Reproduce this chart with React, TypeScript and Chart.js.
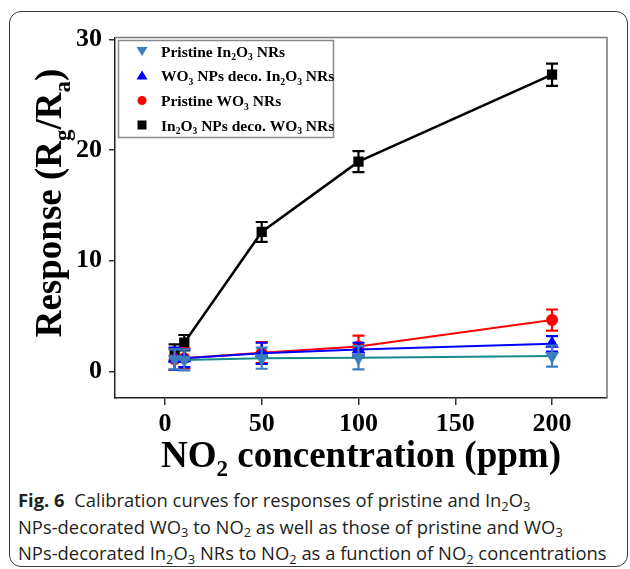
import React, { useEffect, useRef } from "react";
import { Chart, registerables } from "chart.js";

Chart.register(...registerables);

// ---------- data ----------
const concentrations = [5, 10, 50, 100, 200];
const pristineIn2O3 = [1.1, 1.05, 1.2, 1.25, 1.4];
const pristineIn2O3Err = [0.9, 0.95, 0.95, 1.05, 0.95];
const wo3DecoIn2O3 = [1.15, 1.2, 1.65, 2.0, 2.5];
const wo3DecoIn2O3Err = [1.0, 0.8, 0.95, 0.6, 0.7];
const pristineWO3 = [1.1, 1.2, 1.7, 2.25, 4.65];
const pristineWO3Err = [0.95, 0.9, 0.95, 1.0, 0.95];
const in2o3DecoWO3 = [1.7, 2.6, 12.6, 18.95, 26.8];
const in2o3DecoWO3Err = [0.75, 0.7, 0.9, 0.95, 1.0];
const xTicks = [0, 50, 100, 150, 200];
const yTicks = [0, 10, 20, 30];

type Seg = { t: string; sub?: boolean };
const legendLabels: Seg[][] = [
  [{ t: "Pristine In" }, { t: "2", sub: true }, { t: "O" }, { t: "3", sub: true }, { t: " NRs" }],
  [{ t: "WO" }, { t: "3", sub: true }, { t: " NPs deco. In" }, { t: "2", sub: true }, { t: "O" }, { t: "3", sub: true }, { t: " NRs" }],
  [{ t: "Pristine WO" }, { t: "3", sub: true }, { t: " NRs" }],
  [{ t: "In" }, { t: "2", sub: true }, { t: "O" }, { t: "3", sub: true }, { t: " NPs deco. WO" }, { t: "3", sub: true }, { t: " NRs" }],
];
const xTitle: Seg[] = [{ t: "NO" }, { t: "2", sub: true }, { t: " concentration (ppm)" }];
const yTitle: Seg[] = [{ t: "Response (R" }, { t: "g", sub: true }, { t: "/R" }, { t: "a", sub: true }, { t: ")" }];

const SERIF = '"Liberation Serif", "Times New Roman", serif';

function drawRich(ctx: CanvasRenderingContext2D, segs: Seg[], x: number, y: number, size: number, align: "left" | "center") {
  const mainF = `bold ${size}px ${SERIF}`;
  const subF = `bold ${size * 0.62}px ${SERIF}`;
  let w = 0;
  for (const s of segs) {
    ctx.font = s.sub ? subF : mainF;
    w += ctx.measureText(s.t).width;
  }
  let cx = align === "center" ? x - w / 2 : x;
  ctx.textAlign = "left";
  ctx.textBaseline = "alphabetic";
  for (const s of segs) {
    ctx.font = s.sub ? subF : mainF;
    ctx.fillText(s.t, cx, s.sub ? y + size * 0.24 : y);
    cx += ctx.measureText(s.t).width;
  }
}

const errorBarPlugin = {
  id: "errorBars",
  afterDatasetDraw(chart: any, args: any) {
    const ds = chart.data.datasets[args.index];
    const errs: number[] = ds.errors;
    if (!errs) return;
    const ctx: CanvasRenderingContext2D = chart.ctx;
    const xs = chart.scales.x;
    const ys = chart.scales.y;
    ctx.save();
    ctx.strokeStyle = ds.errorColor;
    ctx.lineWidth = 2.2;
    ds.data.forEach((p: any, i: number) => {
      const x = xs.getPixelForValue(p.x);
      const y1 = ys.getPixelForValue(p.y + errs[i]);
      const y2 = ys.getPixelForValue(p.y - errs[i]);
      ctx.beginPath();
      ctx.moveTo(x, y1);
      ctx.lineTo(x, y2);
      ctx.moveTo(x - 6, y1);
      ctx.lineTo(x + 6, y1);
      ctx.moveTo(x - 6, y2);
      ctx.lineTo(x + 6, y2);
      ctx.stroke();
    });
    ctx.restore();
  },
};

const decorPlugin = {
  id: "decor",
  afterDraw(chart: any) {
    const ctx: CanvasRenderingContext2D = chart.ctx;
    const a = chart.chartArea;
    ctx.save();
    // top & right frame (gray)
    ctx.strokeStyle = "#7a7a7a";
    ctx.lineWidth = 1.5;
    ctx.beginPath();
    ctx.moveTo(a.left, a.top);
    ctx.lineTo(a.right, a.top);
    ctx.lineTo(a.right, a.bottom);
    ctx.stroke();

    // legend box
    const lx = 118.5, ly = 40.5, lw = 215, lh = 97;
    ctx.fillStyle = "#ffffff";
    ctx.fillRect(lx, ly, lw, lh);
    ctx.strokeStyle = "#8a8a8a";
    ctx.lineWidth = 1.5;
    ctx.strokeRect(lx, ly, lw, lh);

    const rows = [51, 75.5, 100.5, 125];
    const colors = ["#3b7dbf", "#0000ff", "#ff0000", "#000000"];
    rows.forEach((ry, i) => {
      const mx = 142;
      ctx.fillStyle = colors[i];
      ctx.beginPath();
      if (i === 0) {
        ctx.moveTo(mx - 5.5, ry - 4);
        ctx.lineTo(mx + 5.5, ry - 4);
        ctx.lineTo(mx, ry + 5);
        ctx.closePath();
      } else if (i === 1) {
        ctx.moveTo(mx - 5.5, ry + 4);
        ctx.lineTo(mx + 5.5, ry + 4);
        ctx.lineTo(mx, ry - 5);
        ctx.closePath();
      } else if (i === 2) {
        ctx.arc(mx, ry, 4.5, 0, Math.PI * 2);
      } else {
        ctx.rect(mx - 4.5, ry - 4.5, 9, 9);
      }
      ctx.fill();
      ctx.fillStyle = "#000";
      drawRich(ctx, legendLabels[i], 161, ry + 5.5, 15.5, "left");
    });

    // axis titles
    ctx.fillStyle = "#000";
    drawRich(ctx, xTitle, (a.left + a.right) / 2, 467, 37, "center");
    ctx.save();
    ctx.translate(61, 203);
    ctx.rotate(-Math.PI / 2);
    drawRich(ctx, yTitle, 0, 0, 37, "center");
    ctx.restore();
    ctx.restore();
  },
};

function toPts(vals: number[]) {
  return concentrations.map((c, i) => ({ x: c, y: vals[i] }));
}

export default function App() {
  const ref = useRef<HTMLCanvasElement | null>(null);
  useEffect(() => {
    if (!ref.current) return;
    const tickFont = { family: SERIF, size: 26, weight: "bold" as const };
    const chart = new Chart(ref.current, {
      type: "line",
      data: {
        datasets: [
          {
            label: "Pristine In2O3 NRs",
            data: toPts(pristineIn2O3),
            borderColor: "#178a8a",
            borderWidth: 2,
            pointStyle: "triangle",
            pointRotation: 180,
            pointRadius: 6,
            pointBackgroundColor: "#3b7dbf",
            pointBorderColor: "#3b7dbf",
            errors: pristineIn2O3Err,
            errorColor: "#3b7dbf",
          } as any,
          {
            label: "WO3 NPs deco. In2O3 NRs",
            data: toPts(wo3DecoIn2O3),
            borderColor: "#0000ff",
            borderWidth: 2,
            pointStyle: "triangle",
            pointRadius: 6,
            pointBackgroundColor: "#0000ff",
            pointBorderColor: "#0000ff",
            errors: wo3DecoIn2O3Err,
            errorColor: "#0000ff",
          } as any,
          {
            label: "Pristine WO3 NRs",
            data: toPts(pristineWO3),
            borderColor: "#ff0000",
            borderWidth: 2,
            pointStyle: "circle",
            pointRadius: 5,
            pointBackgroundColor: "#ff0000",
            pointBorderColor: "#ff0000",
            errors: pristineWO3Err,
            errorColor: "#ff0000",
          } as any,
          {
            label: "In2O3 NPs deco. WO3 NRs",
            data: toPts(in2o3DecoWO3),
            borderColor: "#000000",
            borderWidth: 2.5,
            pointStyle: "rect",
            pointRadius: 5.5,
            pointBackgroundColor: "#000000",
            pointBorderColor: "#000000",
            errors: in2o3DecoWO3Err,
            errorColor: "#000000",
          } as any,
        ],
      },
      options: {
        animation: false,
        responsive: false,
        layout: { padding: { top: 37.5, right: 23, left: 0, bottom: 0 } },
        plugins: { legend: { display: false }, tooltip: { enabled: false } },
        elements: { line: { tension: 0 } },
        scales: {
          x: {
            type: "linear",
            min: -25.8,
            max: 228.4,
            afterBuildTicks: (s: any) => {
              s.ticks = xTicks.map((v) => ({ value: v }));
            },
            afterFit: (s: any) => {
              s.height = 82;
            },
            ticks: { font: tickFont, color: "#000", padding: 4, maxRotation: 0, autoSkip: false },
            grid: { drawOnChartArea: false, drawTicks: true, tickLength: 7, color: "#333", lineWidth: 1.5 },
            border: { display: true, color: "#222", width: 1.5 },
          },
          y: {
            type: "linear",
            min: -2.39,
            max: 30.16,
            afterBuildTicks: (s: any) => {
              s.ticks = yTicks.map((v) => ({ value: v }));
            },
            afterFit: (s: any) => {
              s.width = 115;
            },
            ticks: { font: tickFont, color: "#000", padding: 7, autoSkip: false },
            grid: { drawOnChartArea: false, drawTicks: true, tickLength: 6, color: "#333", lineWidth: 1.5 },
            border: { display: true, color: "#222", width: 1.5 },
          },
        },
      },
      plugins: [errorBarPlugin, decorPlugin],
    });
    return () => chart.destroy();
  }, []);

  const sub: React.CSSProperties = { fontSize: "0.7em", position: "relative", top: "0.3em", lineHeight: 0 };
  return (
    <div style={{ position: "absolute", left: 0, top: 0, width: 630, height: 569, background: "#fff", overflow: "hidden" }}>
      <div
        style={{
          position: "absolute",
          left: 9,
          top: 11,
          width: 619,
          height: 556,
          border: "1.5px solid #3a3a3a",
          borderRadius: 12,
          boxSizing: "border-box",
        }}
      />
      <canvas ref={ref} width={630} height={480} style={{ position: "absolute", left: 0, top: 0, display: "block" }} />
      <div
        style={{
          position: "absolute",
          left: 18,
          top: 487,
          fontFamily: '"Open Sans", "Noto Sans", sans-serif',
          fontSize: 18.4,
          lineHeight: "26.5px",
          color: "#231f20",
          whiteSpace: "nowrap",
        }}
      >
        <b>Fig. 6</b>&nbsp; Calibration curves for responses of pristine and In<span style={sub}>2</span>O<span style={sub}>3</span>
        <br />
        NPs-decorated WO<span style={sub}>3</span> to NO<span style={sub}>2</span> as well as those of pristine and WO<span style={sub}>3</span>
        <br />
        NPs-decorated In<span style={sub}>2</span>O<span style={sub}>3</span> NRs to NO<span style={sub}>2</span> as a function of NO<span style={sub}>2</span> concentrations
      </div>
    </div>
  );
}
